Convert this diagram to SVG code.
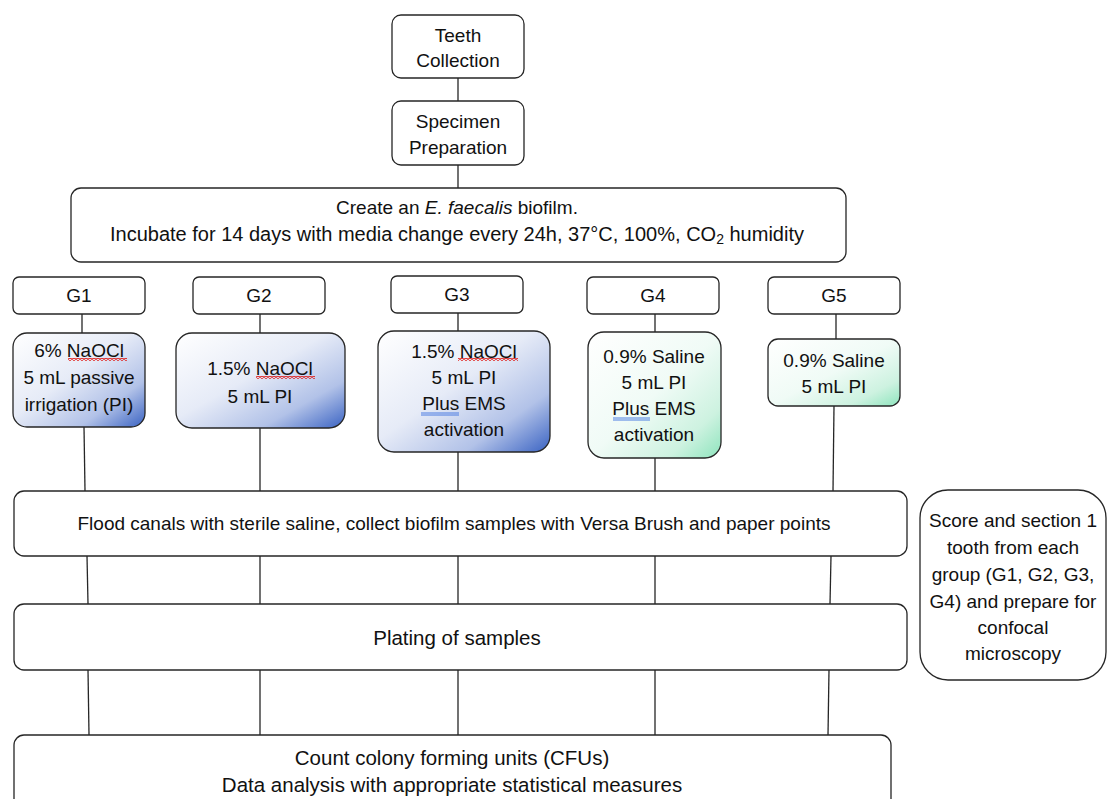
<svg xmlns="http://www.w3.org/2000/svg" width="1107" height="799" viewBox="0 0 1107 799">
<style>
.box{fill:#fff;stroke:#262626;stroke-width:1.3}
.blue{fill:url(#gBlue);stroke:#262626;stroke-width:1.3}
.green{fill:url(#gGreen);stroke:#262626;stroke-width:1.3}
.t{font-family:"Liberation Sans",Arial,sans-serif;font-size:19px;fill:#111;text-anchor:middle}
.big{font-size:20.5px}
.c line{stroke:#262626;stroke-width:1.3}
.sq{fill:url(#squig)}
.ul{stroke:#3b6fe0;stroke-width:0.9}
</style>
<defs>
<linearGradient id="gBlue" x1="0" y1="0" x2="1" y2="1">
<stop offset="0" stop-color="#ffffff"/>
<stop offset="0.45" stop-color="#e6ebf7"/>
<stop offset="0.75" stop-color="#b2c2e8"/>
<stop offset="1" stop-color="#3a63c3"/>
</linearGradient>
<linearGradient id="gGreen" x1="0" y1="0" x2="1" y2="1">
<stop offset="0" stop-color="#ffffff"/>
<stop offset="0.5" stop-color="#f0fbf6"/>
<stop offset="0.8" stop-color="#cdf2e0"/>
<stop offset="1" stop-color="#8ee4bd"/>
</linearGradient>
<pattern id="squig" width="4" height="3" patternUnits="userSpaceOnUse">
<path d="M0,2.5 L2,0.5 L4,2.5" fill="none" stroke="#e0201c" stroke-width="1.1"/>
</pattern>
</defs>
<rect width="1107" height="799" fill="#fff"/>

<g id="connectors" class="c">
<line x1="458" y1="78" x2="458" y2="101"/>
<line x1="458" y1="165" x2="458" y2="188"/>
<line x1="82" y1="314" x2="82" y2="333"/>
<line x1="260" y1="314" x2="260" y2="333"/>
<line x1="458" y1="313" x2="458" y2="331"/>
<line x1="655" y1="314" x2="655" y2="332"/>
<line x1="836" y1="314" x2="836" y2="339"/>
<line x1="84" y1="427" x2="85" y2="491"/>
<line x1="260" y1="428" x2="260" y2="491"/>
<line x1="458" y1="452" x2="458" y2="491"/>
<line x1="655" y1="458" x2="655" y2="491"/>
<line x1="834" y1="406" x2="833" y2="491"/>
<line x1="87" y1="556" x2="88" y2="604"/>
<line x1="260" y1="556" x2="260" y2="604"/>
<line x1="458" y1="556" x2="458" y2="604"/>
<line x1="655" y1="556" x2="655" y2="604"/>
<line x1="831" y1="556" x2="830" y2="604"/>
<line x1="88" y1="670" x2="89" y2="735"/>
<line x1="260" y1="670" x2="260" y2="735"/>
<line x1="458" y1="670" x2="458" y2="735"/>
<line x1="655" y1="670" x2="655" y2="735"/>
<line x1="829" y1="670" x2="828" y2="735"/>
</g>

<g id="teeth-collection">
<rect class="box" x="392" y="15" width="132" height="63" rx="9"/>
<text class="t" x="458" y="42">Teeth</text>
<text class="t" x="458" y="67">Collection</text>
</g>
<g id="specimen-preparation">
<rect class="box" x="392" y="101" width="132" height="64" rx="9"/>
<text class="t" x="458" y="128">Specimen</text>
<text class="t" x="458" y="154">Preparation</text>
</g>
<g id="biofilm">
<rect class="box" x="71" y="188" width="775" height="74" rx="10"/>
<text class="t" x="457" y="214">Create an <tspan font-style="italic">E. faecalis</tspan> biofilm.</text>
<text class="t" x="457" y="241" style="font-size:20px">Incubate for 14 days with media change every 24h, 37°C, 100%, CO<tspan font-size="14" dy="3">2</tspan><tspan dy="-3"> humidity</tspan></text>
</g>

<g id="g1">
<rect class="box" x="13" y="277" width="132" height="37" rx="6"/>
<text class="t" x="79" y="302">G1</text>
</g>
<g id="g2">
<rect class="box" x="193" y="277" width="132" height="37" rx="6"/>
<text class="t" x="259" y="302">G2</text>
</g>
<g id="g3">
<rect class="box" x="391" y="276" width="132" height="37" rx="6"/>
<text class="t" x="457" y="301">G3</text>
</g>
<g id="g4">
<rect class="box" x="587" y="277" width="132" height="37" rx="6"/>
<text class="t" x="653" y="302">G4</text>
</g>
<g id="g5">
<rect class="box" x="768" y="277" width="132" height="37" rx="6"/>
<text class="t" x="834" y="302">G5</text>
</g>

<g id="g1-treatment">
<rect class="blue" x="13" y="333" width="132" height="94" rx="14"/>
<text class="t" x="79" y="357">6% NaOCl</text>
<text class="t" x="79" y="384">5 mL passive</text>
<text class="t" x="79" y="411">irrigation (PI)</text>
<rect class="sq" x="68" y="358" width="59" height="3"/>
</g>
<g id="g2-treatment">
<rect class="blue" x="176" y="333" width="169" height="95" rx="16"/>
<text class="t" x="260" y="375">1.5% NaOCl</text>
<text class="t" x="260" y="403">5 mL PI</text>
<rect class="sq" x="256" y="376" width="59" height="3"/>
</g>
<g id="g3-treatment">
<rect class="blue" x="378" y="331" width="172" height="121" rx="16"/>
<text class="t" x="464" y="358">1.5% NaOCl</text>
<text class="t" x="464" y="384">5 mL PI</text>
<text class="t" x="464" y="410">Plus EMS</text>
<text class="t" x="464" y="436">activation</text>
<rect class="sq" x="458" y="358" width="60" height="3"/>
<line class="ul" x1="421" y1="413" x2="459" y2="413"/>
<line class="ul" x1="421" y1="415" x2="459" y2="415"/>
</g>
<g id="g4-treatment">
<rect class="green" x="588" y="332" width="133" height="126" rx="16"/>
<text class="t" x="654" y="363">0.9% Saline</text>
<text class="t" x="654" y="389">5 mL PI</text>
<text class="t" x="654" y="415">Plus EMS</text>
<text class="t" x="654" y="441">activation</text>
<line class="ul" x1="613" y1="418" x2="650" y2="418"/>
<line class="ul" x1="613" y1="420" x2="650" y2="420"/>
</g>
<g id="g5-treatment">
<rect class="green" x="768" y="339" width="132" height="67" rx="10"/>
<text class="t" x="834" y="367">0.9% Saline</text>
<text class="t" x="834" y="393">5 mL PI</text>
</g>

<g id="flood">
<rect class="box" x="14" y="491" width="893" height="65" rx="10"/>
<text class="t" x="454" y="530">Flood canals with sterile saline, collect biofilm samples with Versa Brush and paper points</text>
</g>
<g id="plating">
<rect class="box" x="14" y="604" width="893" height="66" rx="10"/>
<text class="t big" x="457" y="645">Plating of samples</text>
</g>
<g id="count">
<rect class="box" x="14" y="735" width="877" height="80" rx="10"/>
<text class="t big" x="452" y="765">Count colony forming units (CFUs)</text>
<text class="t big" x="452" y="792">Data analysis with appropriate statistical measures</text>
</g>
<g id="confocal">
<rect class="box" x="920" y="490" width="186" height="190" rx="28"/>
<text class="t" x="1013" y="527">Score and section 1</text>
<text class="t" x="1013" y="554">tooth from each</text>
<text class="t" x="1013" y="581">group (G1, G2, G3,</text>
<text class="t" x="1013" y="608">G4) and prepare for</text>
<text class="t" x="1013" y="634">confocal</text>
<text class="t" x="1013" y="660">microscopy</text>
</g>
</svg>
